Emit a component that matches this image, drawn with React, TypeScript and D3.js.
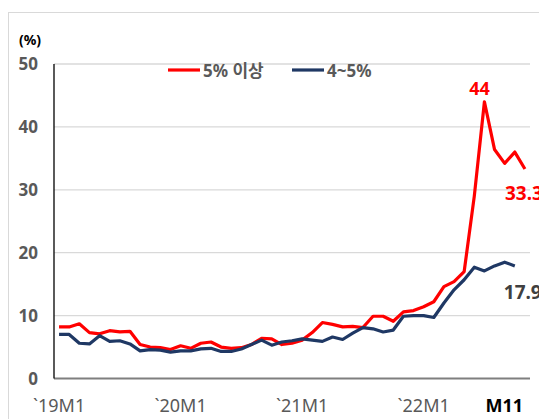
import React from "react";
import * as d3 from "d3";

const months: string[] = [];
for (const yy of ["19", "20", "21", "22"]) {
  for (let m = 1; m <= 12; m++) if (!(yy === "22" && m > 11)) months.push(`${yy}M${m}`);
}

const over5 = [
  8.2, 8.2, 8.7, 7.3, 7.1, 7.6, 7.4, 7.5, 5.4, 5.0, 4.9, 4.6,
  5.2, 4.8, 5.6, 5.8, 5.0, 4.8, 4.9, 5.4, 6.4, 6.3, 5.4, 5.6,
  6.1, 7.3, 8.9, 8.6, 8.2, 8.3, 8.1, 9.9, 9.9, 9.1, 10.6, 10.8,
  11.4, 12.2, 14.6, 15.4, 17.0, 29.0, 44.0, 36.4, 34.2, 36.0, 33.3,
];
const from4to5 = [
  7.0, 7.0, 5.6, 5.5, 6.8, 5.9, 6.0, 5.5, 4.4, 4.6, 4.5, 4.2,
  4.4, 4.4, 4.7, 4.8, 4.3, 4.3, 4.7, 5.4, 6.1, 5.3, 5.8, 6.0,
  6.3, 6.1, 5.9, 6.6, 6.2, 7.2, 8.1, 7.9, 7.4, 7.7, 9.9, 10.0,
  10.0, 9.7, 12.0, 14.1, 15.7, 17.7, 17.1, 17.9, 18.5, 17.9,
];
const yTicks = [0, 10, 20, 30, 40, 50];
const xTickMonths = ["19M1", "20M1", "21M1", "22M1"];
const xTickLabels = ["`19M1", "`20M1", "`21M1", "`22M1"];
const seriesNames = ["5% 이상", "4~5%"];
const colors = ["#ff0000", "#1f3864"];

const font = "'Noto Sans', 'Noto Sans CJK KR', sans-serif";

export default function App() {
  const W = 539;
  const H = 419;
  const left = 54;
  const right = 530;

  const x = d3.scaleBand<string>().domain(months).range([left, right]);
  const y = d3.scaleLinear().domain([0, 50]).range([378.5, 64]);
  const cx = (i: number) => (x(months[i]) as number) + x.bandwidth() / 2;

  const line = d3
    .line<number>()
    .x((_, i) => cx(i))
    .y((d) => y(d));

  const series = [over5, from4to5];
  const lastR = over5.length - 1;
  const lastB = from4to5.length - 1;
  const peakI = over5.indexOf(d3.max(over5) as number);

  return (
    <svg
      width={W}
      height={H}
      style={{ position: "absolute", left: 0, top: 0, fontFamily: font }}
    >
      <rect x={8.5} y={12.5} width={W + 20} height={H + 20} fill="#fff" stroke="#d9d9d9" />
      <text x={19} y={45} fontSize={14} fontWeight="bold" fill="#000">
        (%)
      </text>
      {yTicks.map((t) => (
        <g key={t}>
          {t > 0 && (
            <line x1={left} x2={right} y1={y(t)} y2={y(t)} stroke="#d9d9d9" strokeWidth={1.3} />
          )}
          <text
            x={38}
            y={y(t) + 6}
            textAnchor="end"
            fontSize={17}
            fontWeight="bold"
            fill="#595959"
          >
            {t}
          </text>
        </g>
      ))}
      <line x1={left} x2={right} y1={y(0)} y2={y(0)} stroke="#7f7f7f" strokeWidth={2} />
      <line x1={left} x2={left} y1={y(50)} y2={y(0)} stroke="#000" strokeWidth={1.3} />
      {xTickMonths.map((m, i) => (
        <text
          key={m}
          x={(x(m) as number) + x.bandwidth() / 2}
          y={412}
          textAnchor="middle"
          fontSize={18}
          fill="#595959"
        >
          {xTickLabels[i]}
        </text>
      ))}
      <text x={right - 7} y={412} textAnchor="end" fontSize={18} fontWeight="bold" fill="#000">
        M11
      </text>
      {series.map((s, k) => (
        <path
          key={k}
          d={line(s) as string}
          fill="none"
          stroke={colors[k]}
          strokeWidth={3.2}
          strokeLinejoin="round"
        />
      ))}
      <text
        x={cx(peakI) - 5}
        y={y(over5[peakI]) - 7}
        textAnchor="middle"
        fontSize={18}
        fontWeight="bold"
        fill="#ff0000"
      >
        {over5[peakI]}
      </text>
      <text
        x={cx(lastR) - 20}
        y={y(over5[lastR]) + 31}
        fontSize={19}
        fontWeight="bold"
        fill="#ff0000"
      >
        {over5[lastR]}
      </text>
      <text
        x={cx(lastB) - 11}
        y={y(from4to5[lastB]) + 33}
        fontSize={19}
        fontWeight="bold"
        fill="#404040"
      >
        {from4to5[lastB]}
      </text>
      {seriesNames.map((n, k) => {
        const lx = k === 0 ? 168 : 292;
        return (
          <g key={n}>
            <line x1={lx} x2={lx + 32} y1={70} y2={70} stroke={colors[k]} strokeWidth={3.2} />
            <text x={lx + 35} y={77} fontSize={17} fontWeight="bold" fill="#595959">
              {n}
            </text>
          </g>
        );
      })}
    </svg>
  );
}
